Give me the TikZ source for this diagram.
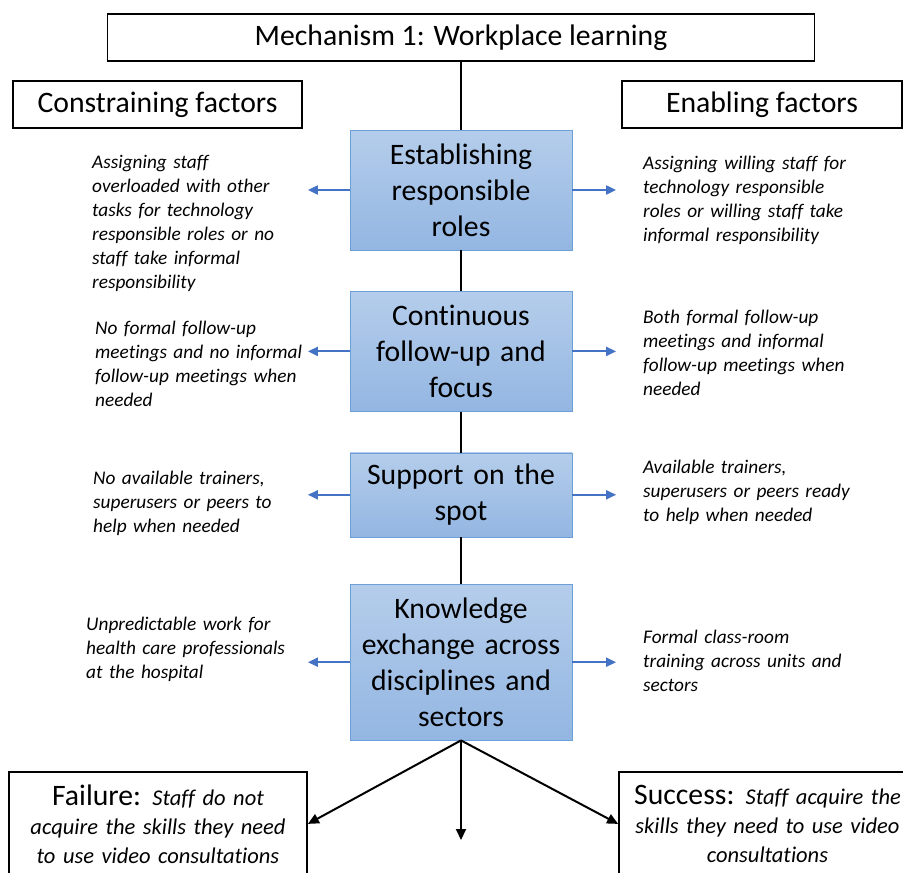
\documentclass[tikz,border=0pt]{standalone}
\usepackage{fontspec}
\setmainfont{Carlito}[Ligatures=NoCommon]
\usetikzlibrary{arrows.meta,positioning}

\definecolor{boxtop}{HTML}{B5CDEB}
\definecolor{boxbot}{HTML}{93B6E2}
\definecolor{boxedge}{HTML}{6A9FD8}
\definecolor{arrowblue}{HTML}{4472C4}

\begin{document}
\begin{tikzpicture}[x=1pt,y=1pt,node distance=41pt,
    frame/.style={draw,line width=1.8pt,inner sep=0pt,font=\fontsize{29.7}{35}\selectfont},
    mech/.style={draw=boxedge,top color=boxtop,bottom color=boxbot,minimum width=222pt,
        text width=214pt,align=center,inner sep=0pt,font=\fontsize{29.7}{36}\selectfont},
    factor/.style={text width=215pt,align=left,inner sep=3pt,anchor=west,
        font=\fontsize{19.3}{24}\selectfont\itshape},
    outcome/.style={frame,text width=290pt,align=center,minimum height=104pt,anchor=north,
        font=\fontsize{22.5}{29}\selectfont\itshape},
    sidearrow/.style={draw=arrowblue,line width=2pt,shorten >=5pt,
        -{Triangle[length=10pt,width=9pt]}},
    flow/.style={line width=2pt,-{Triangle[length=11pt,width=10pt]}}]
                        % \draw[help lines] (0,0) grid (903,-873);
                        \useasboundingbox (0,0) rectangle (903,-873);
                        \clip (0,0) rectangle (903,-873);

                        \node[frame,minimum width=707pt,minimum height=47pt] (title) at (461,-37.5) {Mechanism 1: Workplace learning};
                        \node[frame,minimum width=289pt,minimum height=47pt] (cons)  at (157.5,-104.5) {Constraining factors};
                        \node[frame,minimum width=280pt,minimum height=47pt] (enab)  at (762,-104.5)   {Enabling factors};

                        \node[mech,minimum height=120pt] (b1) at (461,-190)      {Establishing\\ responsible\\ roles};
                        \node[mech,minimum height=120pt] (b2) [below=of b1]      {Continuous\\ follow-up and\\ focus};
                        \node[mech,minimum height=84pt]  (b3) [below=of b2]      {Support on the\\ spot};
                        \node[mech,minimum height=156pt] (b4) [below=47pt of b3] {Knowledge\\ exchange across\\ disciplines and\\ sectors};

                        \node[factor] (c1) at (89,-223) {Assigning staff\\ overloaded with other\\ tasks for technology\\ responsible roles or no\\ staff take informal\\ responsibility};
                        \node[factor] (c2) at (92,-364) {No formal follow-up\\ meetings and no informal\\ follow-up meetings when\\ needed};
                        \node[factor] (c3) at (90,-503) {No available trainers,\\ superusers or peers to\\ help when needed};
                        \node[factor] (c4) at (83,-649) {Unpredictable work for\\ health care professionals\\ at the hospital};

                        \node[factor] (e1) at (640,-200) {Assigning willing staff for\\ technology responsible\\ roles or willing staff take\\ informal responsibility};
                        \node[factor] (e2) at (640,-353) {Both formal follow-up\\ meetings and informal\\ follow-up meetings when\\ needed};
                        \node[factor] (e3) at (640,-492) {Available trainers,\\ superusers or peers ready\\ to help when needed};
                        \node[factor] (e4) at (640,-661) {Formal class-room\\ training across units and\\ sectors};

                        \node[outcome,minimum width=298pt] (fail) at (158,-771)   {{\upshape\fontsize{29.7}{29}\selectfont Failure:} Staff do not\\ acquire the skills they need\\ to use video consultations};
                        \node[outcome,minimum width=297pt] (succ) at (767.5,-771) {{\upshape\fontsize{29.7}{29}\selectfont Success:} Staff acquire the\\ skills they need to use video\\ consultations};
                        \coordinate (stop) at (461,-840);

                        \draw[line width=1.8pt] (title) -- (b1)
                            (b1) -- (b2)
                            (b2) -- (b3)
                            (b3) -- (b4);

                        \foreach \i in {1,...,4} {
                            \draw[sidearrow] (b\i.west) -- (b\i.west -| cons.east);
                            \draw[sidearrow] (b\i.east) -- (b\i.east -| enab.west);
                        }

                        \draw[flow] (b4.south) -- (fail.east);
                        \draw[flow] (b4.south) -- (stop);
                        \draw[flow] (b4.south) -- (succ.west);
                    \end{tikzpicture}
\end{document}
